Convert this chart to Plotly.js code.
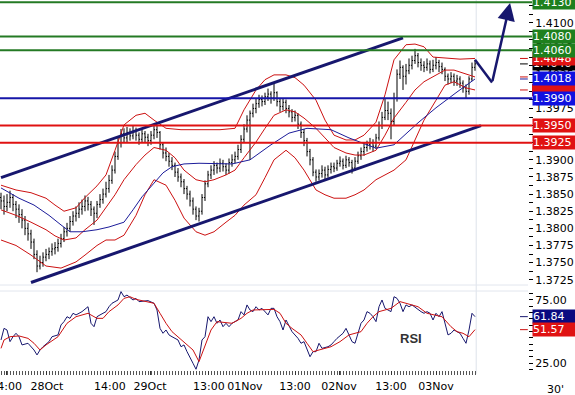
<!DOCTYPE html>
<html><head><meta charset="utf-8">
<script src="https://cdn.plot.ly/plotly-3.0.1.min.js"></script>
<style>html,body{margin:0;padding:0;background:#fff}#chart{width:575px;height:395px}</style>
</head><body><div id="chart"></div>
<script>
// ---- price bars (30' EUR/USD) ----
const barOpen = [1.3845,1.3840,1.3832,1.3838,1.3845,1.3835,1.3828,1.3820,1.3812,1.3800,
1.3792,1.3780,1.3762,1.3745,1.3750,1.3758,1.3762,1.3766,1.3770,1.3772,
1.3778,1.3785,1.3795,1.3800,1.3810,1.3818,1.3822,1.3828,1.3832,1.3840,
1.3835,1.3828,1.3822,1.3835,1.3842,1.3850,1.3858,1.3870,1.3885,1.3905,
1.3925,1.3938,1.3932,1.3940,1.3935,1.3942,1.3936,1.3930,1.3938,1.3933,
1.3928,1.3936,1.3944,1.3940,1.3922,1.3910,1.3905,1.3898,1.3892,1.3882,
1.3875,1.3868,1.3858,1.3850,1.3840,1.3828,1.3818,1.3825,1.3845,1.3865,
1.3878,1.3885,1.3892,1.3888,1.3895,1.3890,1.3885,1.3896,1.3900,1.3905,
1.3915,1.3930,1.3945,1.3958,1.3968,1.3975,1.3982,1.3988,1.3985,1.3992,
1.3996,1.3990,1.3998,1.3985,1.3978,1.3984,1.3975,1.3970,1.3962,1.3965,
1.3952,1.3940,1.3928,1.3912,1.3900,1.3882,1.3875,1.3880,1.3885,1.3878,
1.3886,1.3890,1.3888,1.3895,1.3898,1.3892,1.3900,1.3896,1.3888,1.3898,
1.3906,1.3912,1.3918,1.3922,1.3925,1.3920,1.3932,1.3950,1.3962,1.3972,
1.3968,1.3956,1.3990,1.4025,1.4035,1.4022,1.4030,1.4038,1.4045,1.4052,
1.4042,1.4038,1.4035,1.4040,1.4032,1.4038,1.4042,1.4036,1.4032,1.4022,
1.4018,1.4022,1.4015,1.4018,1.4012,1.4005,1.4000,1.4018,1.4035];
const barHigh = [1.3852,1.3848,1.3850,1.3855,1.3850,1.3840,1.3835,1.3828,1.3818,1.3808,
1.3798,1.3785,1.3768,1.3760,1.3765,1.3770,1.3772,1.3778,1.3780,1.3785,
1.3792,1.3802,1.3808,1.3818,1.3825,1.3832,1.3838,1.3842,1.3848,1.3846,
1.3840,1.3832,1.3840,1.3850,1.3858,1.3868,1.3878,1.3892,1.3912,1.3932,
1.3945,1.3946,1.3948,1.3946,1.3950,1.3947,1.3940,1.3944,1.3942,1.3938,
1.3942,1.3952,1.3950,1.3942,1.3926,1.3918,1.3910,1.3904,1.3896,1.3888,
1.3880,1.3872,1.3862,1.3855,1.3845,1.3832,1.3830,1.3850,1.3870,1.3884,
1.3892,1.3898,1.3896,1.3902,1.3900,1.3895,1.3902,1.3908,1.3912,1.3922,
1.3936,1.3952,1.3965,1.3972,1.3982,1.3990,1.3995,1.3994,1.3998,1.4004,
1.4000,1.4012,1.4000,1.3990,1.3990,1.3988,1.3980,1.3974,1.3972,1.3968,
1.3956,1.3945,1.3932,1.3916,1.3904,1.3886,1.3886,1.3892,1.3890,1.3892,
1.3896,1.3896,1.3900,1.3905,1.3902,1.3906,1.3904,1.3900,1.3904,1.3912,
1.3918,1.3925,1.3928,1.3932,1.3930,1.3938,1.3956,1.3970,1.3990,1.3985,
1.3975,1.3998,1.4032,1.4045,1.4038,1.4040,1.4048,1.4052,1.4062,1.4056,
1.4048,1.4044,1.4048,1.4045,1.4046,1.4050,1.4046,1.4042,1.4035,1.4026,
1.4028,1.4026,1.4024,1.4022,1.4016,1.4010,1.4022,1.4042,1.4046];
const barLow = [1.3828,1.3820,1.3825,1.3830,1.3825,1.3815,1.3808,1.3800,1.3790,1.3782,
1.3770,1.3755,1.3736,1.3740,1.3744,1.3752,1.3755,1.3760,1.3762,1.3766,
1.3772,1.3780,1.3788,1.3795,1.3804,1.3810,1.3815,1.3820,1.3825,1.3826,
1.3818,1.3805,1.3815,1.3830,1.3836,1.3845,1.3852,1.3865,1.3880,1.3900,
1.3918,1.3925,1.3926,1.3928,1.3930,1.3928,1.3922,1.3925,1.3926,1.3920,
1.3922,1.3930,1.3932,1.3915,1.3902,1.3898,1.3890,1.3885,1.3875,1.3868,
1.3860,1.3850,1.3842,1.3832,1.3820,1.3812,1.3810,1.3820,1.3840,1.3860,
1.3872,1.3878,1.3880,1.3882,1.3883,1.3878,1.3880,1.3890,1.3895,1.3900,
1.3910,1.3925,1.3940,1.3900,1.3962,1.3968,1.3976,1.3978,1.3980,1.3986,
1.3982,1.3986,1.3978,1.3970,1.3972,1.3968,1.3962,1.3955,1.3956,1.3945,
1.3932,1.3920,1.3905,1.3892,1.3876,1.3868,1.3870,1.3874,1.3872,1.3874,
1.3880,1.3882,1.3884,1.3890,1.3886,1.3888,1.3890,1.3880,1.3884,1.3894,
1.3900,1.3906,1.3912,1.3915,1.3912,1.3916,1.3928,1.3945,1.3958,1.3958,
1.3930,1.3950,1.3985,1.4018,1.4002,1.4010,1.4025,1.4032,1.4040,1.4035,
1.4030,1.4028,1.4030,1.4026,1.4028,1.4032,1.4028,1.4025,1.4015,1.4010,
1.4012,1.4008,1.4008,1.4005,1.3998,1.3990,1.3995,1.4015,1.4030];
const barClose = [1.3840,1.3832,1.3838,1.3845,1.3835,1.3828,1.3820,1.3812,1.3800,1.3792,
1.3780,1.3762,1.3745,1.3750,1.3758,1.3762,1.3766,1.3770,1.3772,1.3778,
1.3785,1.3795,1.3800,1.3810,1.3818,1.3822,1.3828,1.3832,1.3840,1.3835,
1.3828,1.3822,1.3835,1.3842,1.3850,1.3858,1.3870,1.3885,1.3905,1.3925,
1.3938,1.3932,1.3940,1.3935,1.3942,1.3936,1.3930,1.3938,1.3933,1.3928,
1.3936,1.3944,1.3940,1.3922,1.3910,1.3905,1.3898,1.3892,1.3882,1.3875,
1.3868,1.3858,1.3850,1.3840,1.3828,1.3818,1.3825,1.3845,1.3865,1.3878,
1.3885,1.3892,1.3888,1.3895,1.3890,1.3885,1.3896,1.3900,1.3905,1.3915,
1.3930,1.3945,1.3958,1.3968,1.3975,1.3982,1.3988,1.3985,1.3992,1.3996,
1.3990,1.3998,1.3985,1.3978,1.3984,1.3975,1.3970,1.3962,1.3965,1.3952,
1.3940,1.3928,1.3912,1.3900,1.3882,1.3875,1.3880,1.3885,1.3878,1.3886,
1.3890,1.3888,1.3895,1.3898,1.3892,1.3900,1.3896,1.3888,1.3898,1.3906,
1.3912,1.3918,1.3922,1.3925,1.3920,1.3932,1.3950,1.3962,1.3972,1.3968,
1.3956,1.3990,1.4025,1.4035,1.4022,1.4030,1.4038,1.4045,1.4052,1.4042,
1.4038,1.4035,1.4040,1.4032,1.4038,1.4042,1.4036,1.4032,1.4022,1.4018,
1.4022,1.4015,1.4018,1.4012,1.4005,1.4000,1.4018,1.4035,1.4040];

// ---- Bollinger bands and moving average (bar index, price) ----
const bbUpperIdx = [0,5,10,15,18,21,25,28,32,35,38,41,45,48,51,55,60,66,73,78,81,85,88,91,95,98,101,105,108,111,115,118,121,125,128,131,135,138,141,144,147,153,158];
const bbUpper = [1.3863,1.3856,1.3852,1.3844,1.3834,1.3825,1.3830,1.3845,1.3862,1.3878,1.3914,1.3951,1.3965,1.3968,1.3958,1.3946,1.3944,1.3944,1.3944,1.3946,1.3973,1.4002,1.4017,1.4024,1.4024,1.4020,1.4009,1.3987,1.3958,1.3936,1.3929,1.3929,1.3936,1.3955,1.3995,1.4046,1.4068,1.4069,1.4065,1.4050,1.4049,1.4047,1.4048];
const bbMidIdx = [0,5,10,15,18,21,25,28,32,35,38,41,45,48,51,55,58,61,65,68,71,75,78,81,85,88,91,95,98,101,105,108,111,115,118,121,125,128,131,135,138,141,145,148,151,155,158];
const bbMid = [1.3827,1.3819,1.3809,1.3798,1.3789,1.3783,1.3786,1.3798,1.3812,1.3831,1.3849,1.3871,1.3893,1.3907,1.3918,1.3914,1.3903,1.3885,1.3871,1.3868,1.3871,1.3878,1.3885,1.3903,1.3926,1.3946,1.3965,1.3973,1.3970,1.3961,1.3946,1.3932,1.3918,1.3910,1.3907,1.3907,1.3914,1.3936,1.3961,1.3984,1.4002,1.4014,1.4024,1.4031,1.4031,1.4025,1.4021];
const bbLowerIdx = [0,5,10,15,20,25,28,32,35,38,41,45,48,51,55,58,61,65,68,71,75,78,81,85,88,91,95,98,101,105,108,111,115,118,121,125,128,131,135,138,141,145,148,151,155,158];
const bbLower = [1.3783,1.3775,1.3761,1.3745,1.3742,1.3751,1.3761,1.3775,1.3783,1.3783,1.3790,1.3819,1.3849,1.3871,1.3863,1.3841,1.3815,1.3795,1.3790,1.3795,1.3809,1.3819,1.3834,1.3849,1.3874,1.3900,1.3914,1.3903,1.3885,1.3856,1.3849,1.3844,1.3844,1.3849,1.3856,1.3871,1.3878,1.3885,1.3900,1.3929,1.3958,1.3987,1.4009,1.4014,1.4005,1.4002];
const maIdx = [0,3,6,11,16,20,23,27,32,36,41,44,47,51,54,57,61,66,72,77,83,90,96,102,110,116,125,131,139,145,152,158];
const maVal = [1.3859,1.3852,1.3844,1.3834,1.3819,1.3805,1.3795,1.3795,1.3798,1.3802,1.3809,1.3827,1.3846,1.3866,1.3881,1.3890,1.3894,1.3895,1.3895,1.3894,1.3900,1.3922,1.3939,1.3946,1.3944,1.3932,1.3917,1.3922,1.3954,1.3976,1.3999,1.4018];

// ---- trend channel, levels, forecast ----
const channelUpperIdx = [0,134];
const channelUpper = [1.3874,1.4078];
const channelLowerIdx = [10,160];
const channelLower = [1.3721,1.3950];
const resistanceLevels = [1.4130,1.4080,1.4060];
const pivotLevels = [1.3990];
const supportLevels = [1.3950,1.3925];
const forecastIdx = [158,163.7,169.7];
const forecastPrice = [1.4046,1.4013,1.4129];

// ---- RSI ----
const rsiIdx = [0,1,2,3,4,5,6,7,9,11,12,13,14,16,17,19,20,21,22,23,24,25,26,27,29,30,31,32,33,34,35,36,37,39,40,41,42,44,45,46,49,51,52,53,54,55,56,57,59,60,61,62,63,64,65,66,67,68,69,70,71,72,73,74,75,76,77,79,80,81,82,83,84,85,86,87,89,90,91,92,93,94,95,96,97,99,100,101,102,103,104,105,106,107,109,110,111,112,114,115,116,117,118,119,120,121,122,123,124,125,126,127,128,129,130,131,132,133,134,135,136,137,139,140,141,142,143,144,145,146,147,149,150,151,152,153,154,155,156,157,158];
const rsiVal = [43.4,52.6,51.3,42.1,46.0,48.7,46.0,39.5,40.8,35.5,31.6,35.5,38.1,42.1,46.0,47.4,55.3,57.9,61.8,60.5,64.5,63.2,64.5,65.8,69.7,56.6,53.9,61.8,63.2,64.5,65.8,69.7,72.4,75.0,81.6,77.6,78.9,75.0,76.3,73.7,74.5,72.4,67.1,52.6,48.7,51.3,47.4,46.0,43.4,38.1,39.5,34.2,28.9,25.0,20.3,27.6,43.4,46.0,61.8,57.9,61.8,56.6,59.2,53.9,56.6,53.9,56.6,59.2,65.8,63.2,71.1,67.1,65.8,69.7,67.1,68.4,63.2,68.4,68.4,61.8,57.9,51.3,59.2,53.9,50.0,44.7,40.8,42.1,36.8,30.2,34.2,34.2,40.8,36.8,38.1,39.5,42.1,44.7,48.7,52.6,47.4,42.1,40.8,48.7,56.6,59.2,65.8,64.5,61.8,57.9,69.7,75.0,68.4,67.1,65.8,77.6,76.3,72.4,65.8,71.1,69.7,71.1,67.1,65.8,64.5,65.8,64.5,59.2,64.5,61.8,65.8,47.4,48.7,51.3,50.0,48.7,44.7,40.8,51.3,64.5,61.84];
const sigIdx = [0,1,3,6,9,11,13,15,19,22,25,29,32,34,36,39,41,43,45,49,51,53,55,57,61,64,66,68,70,72,75,77,80,82,84,87,91,93,95,97,100,102,104,106,110,113,116,120,122,124,126,130,133,135,139,142,145,147,150,152,154,156,158];
const sigVal = [36.8,43.4,46.0,46.6,44.7,40.8,35.5,39.5,46.0,56.6,61.8,64.5,60.5,60.5,65.8,71.1,76.3,77.6,75.5,73.7,72.4,64.5,56.6,50.0,42.1,35.5,26.3,38.1,51.3,57.9,57.1,56.6,60.5,64.5,67.1,67.1,67.6,64.5,56.6,52.6,47.4,40.8,34.2,35.5,38.1,42.1,47.4,50.0,56.6,61.8,65.8,68.4,73.7,72.4,69.7,64.5,63.2,61.8,53.9,50.0,48.7,46.0,51.57];

// ---- time axis labels ----
const timeTickIdx = [1.7,15.3,36.3,49.7,69.3,81.3,98,112.7,130,145];
const timeTickText = ['14:00','28Oct','14:00','29Oct','13:00','01Nov','13:00','02Nov','13:00','03Nov'];

// ===== drawing =====
const last = a => a[a.length-1];
const barIdx = barClose.map((_, i) => i);
const NAVY = '#17176e', RED = '#cc1111', GREEN = '#247a24';
const F = 'DejaVu Sans';

const traces = [
  {x: bbUpperIdx, y: bbUpper, type:'scatter', mode:'lines', line:{color:RED, width:1}, xaxis:'x', yaxis:'y'},
  {x: bbMidIdx, y: bbMid, type:'scatter', mode:'lines', line:{color:RED, width:1}, xaxis:'x', yaxis:'y'},
  {x: bbLowerIdx, y: bbLower, type:'scatter', mode:'lines', line:{color:RED, width:1}, xaxis:'x', yaxis:'y'},
  {x: maIdx, y: maVal, type:'scatter', mode:'lines', line:{color:'#1c1c9a', width:1}, xaxis:'x', yaxis:'y'},
  {x: barIdx, open: barOpen, high: barHigh, low: barLow, close: barClose, type:'ohlc',
   increasing:{line:{color:'#000', width:1}}, decreasing:{line:{color:'#000', width:1}},
   tickwidth:0.35, xaxis:'x', yaxis:'y', hoverinfo:'skip'},
  {x: channelUpperIdx, y: channelUpper, type:'scatter', mode:'lines', line:{color:NAVY, width:3}, xaxis:'x', yaxis:'y'},
  {x: channelLowerIdx, y: channelLower, type:'scatter', mode:'lines', line:{color:NAVY, width:3}, xaxis:'x', yaxis:'y'},
  {x: forecastIdx.slice(0,2), y: forecastPrice.slice(0,2), type:'scatter', mode:'lines', line:{color:NAVY, width:2.5}, xaxis:'x', yaxis:'y'},
  {x: rsiIdx, y: rsiVal, type:'scatter', mode:'lines', line:{color:NAVY, width:1}, xaxis:'x', yaxis:'y2'},
  {x: sigIdx, y: sigVal, type:'scatter', mode:'lines', line:{color:RED, width:1}, xaxis:'x', yaxis:'y2'}
];

const shapes = [];
const hline = (v, color) => shapes.push({type:'line', xref:'paper', x0:0, x1:1.0076, yref:'y', y0:v, y1:v, line:{color, width:2}});
resistanceLevels.forEach(v => hline(v, GREEN));
pivotLevels.forEach(v => hline(v, '#1616a8'));
supportLevels.forEach(v => hline(v, '#e01212'));
shapes.push({type:'line', xref:'x', x0:158.4, x1:158.4, yref:'paper', y0:-0.01, y1:1, line:{color:'#dde2ea', width:1}, layer:'below'});
[0.2297, 0.2135].forEach(p => shapes.push({type:'line', xref:'paper', x0:0, x1:1, yref:'paper', y0:p, y1:p, line:{color:'#e2e6ee', width:1}, layer:'below'}));
const mark = (v, yref, color) => shapes.push({type:'line', xref:'x', x0:173, x1:175.6, yref, y0:v, y1:v, line:{color, width:1}});
mark(last(bbUpper), 'y', RED); mark(last(barClose), 'y', '#000'); mark(last(bbMid), 'y', RED);
mark(last(maVal), 'y', '#1c1c9a'); mark(last(bbLower), 'y', RED);
mark(last(rsiVal), 'y2', NAVY); mark(last(sigVal), 'y2', RED);
// lower-band price tag, almost fully covered by the neighbouring tags
shapes.push({type:'rect', xref:'paper', x0:1.0076, x1:1.09, yref:'y', y0:last(bbLower)-0.0009, y1:last(bbLower)+0.0009,
  fillcolor:'#e01212', line:{width:0}});

const annotations = [];
const box = (v, yref, bg, digits) => annotations.push({xref:'paper', x:1, xanchor:'left', xshift:4, yref, y:v, yanchor:'middle',
  text:v.toFixed(digits), showarrow:false, bgcolor:bg, borderpad:0, width:43, height:13, align:'left', valign:'middle',
  font:{family:F, size:11, color:'#fff'}});
box(last(barClose), 'y', '#000', 4);
box(last(bbUpper), 'y', '#e01212', 4);
box(last(maVal), 'y', '#1010e0', 4);
pivotLevels.forEach(v => box(v, 'y', '#1010e0', 4));
supportLevels.forEach(v => box(v, 'y', '#e01212', 4));
resistanceLevels.forEach(v => box(v, 'y', '#1e801e', 4));
box(last(rsiVal), 'y2', '#0a0a80', 2);
box(last(sigVal), 'y2', '#e01212', 2);
annotations.push({xref:'x', yref:'y', x:forecastIdx[2], y:forecastPrice[2], axref:'x', ayref:'y', ax:forecastIdx[1], ay:forecastPrice[1],
  showarrow:true, arrowhead:2, arrowsize:1.4, arrowwidth:2.5, arrowcolor:NAVY, text:''});
annotations.push({xref:'x', yref:'y2', x:136.7, y:44.2, text:'<b>RSI</b>', showarrow:false, font:{family:'Liberation Sans', size:13, color:'#333'}});
annotations.push({xref:'paper', yref:'paper', x:1.034, xanchor:'left', y:-0.033, yanchor:'top', text:"30'", showarrow:false, borderpad:0, font:{family:F, size:11, color:'#000'}});

const layout = {
  width:575, height:395, margin:{l:0, r:47, t:0, b:25}, paper_bgcolor:'#fff', plot_bgcolor:'#fff',
  showlegend:false, font:{family:F, size:11, color:'#000'},
  xaxis:{domain:[0,1], anchor:'y2', range:[-0.3333,175.6667], showgrid:false, zeroline:false, showline:false,
    tickmode:'array', tickvals:timeTickIdx, ticktext:timeTickText, tickangle:0, ticks:'outside', ticklen:4, tickcolor:'#333',
    ticklabelstandoff:2,
    minor:{tickmode:'array', tickvals:barIdx, ticks:'outside', ticklen:4, tickcolor:'#555', tickwidth:1},
    rangeslider:{visible:false}, tickfont:{family:F, size:11}, ticklabeloverflow:'allow', fixedrange:true},
  yaxis:{domain:[0.2297,1], range:[1.37173,1.41333], side:'right', showgrid:false, zeroline:false,
    tick0:1.3725, dtick:0.0025, tickformat:'.4f', ticks:'outside', ticklen:4, tickcolor:'#000',
    minor:{dtick:0.00125, tick0:1.3725, ticks:'outside', ticklen:4, tickcolor:'#000'}, tickfont:{family:F, size:11}, fixedrange:true},
  yaxis2:{domain:[0,0.2135], range:[19.7,82.1], side:'right', showgrid:false, zeroline:false,
    tickmode:'array', tickvals:[25,75], ticktext:['25.00','75.00'], ticks:'outside', ticklen:4, tickcolor:'#000',
    minor:{dtick:5, tick0:0, ticks:'outside', ticklen:4, tickcolor:'#000'}, tickfont:{family:F, size:11}, fixedrange:true},
  shapes, annotations
};
Plotly.newPlot('chart', traces, layout, {staticPlot:true, displayModeBar:false});
</script>
</body></html>
